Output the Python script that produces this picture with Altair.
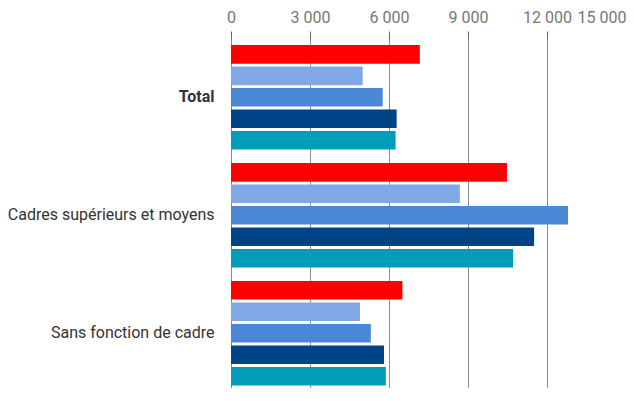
import altair as alt
import pandas as pd

groups = ["Total", "Cadres supérieurs et moyens", "Sans fonction de cadre"]
series = ["S1", "S2", "S3", "S4", "S5"]
colors = ["#ff0000", "#80a8e4", "#4a88d6", "#004386", "#009db8"]
values = [
    [7170, 5000, 5760, 6290, 6250],
    [10480, 8690, 12800, 11510, 10710],
    [6510, 4900, 5310, 5810, 5880],
]
x_ticks = [0, 3000, 6000, 9000, 12000, 15000]

rows = []
for g, vals in zip(groups, values):
    for s, v in zip(series, vals):
        rows.append({"groupe": g, "serie": s, "valeur": v})
df = pd.DataFrame(rows)

chart = alt.Chart(df).mark_bar().encode(
    x=alt.X(
        "valeur:Q",
        scale=alt.Scale(domain=[0, 15000], nice=False),
        axis=alt.Axis(
            orient="top",
            values=x_ticks,
            title=None,
            labelExpr="replace(format(datum.value, ',d'), ',', ' ')",
            labelAlign=alt.expr("datum.value == 15000 ? 'right' : 'center'"),
            labelFont="Roboto",
            labelFontSize=16,
            labelColor="#777777",
            labelPadding=6,
            tickSize=8,
            tickColor="#666666",
            domain=False,
            grid=True,
            gridColor="#8c8c8c",
            gridWidth=1,
        ),
    ),
    y=alt.Y(
        "groupe:N",
        sort=groups,
        scale=alt.Scale(paddingInner=0.113, paddingOuter=0.0355, align=0.71),
        axis=alt.Axis(
            title=None,
            ticks=False,
            tickSize=0,
            domain=False,
            labelFont="Roboto",
            labelFontSize=16,
            labelColor="#333333",
            labelFontWeight=alt.expr("datum.value == 'Total' ? 'bold' : 'normal'"),
            labelPadding=17,
            labelLimit=400,
        ),
    ),
    yOffset=alt.YOffset(
        "serie:N",
        sort=series,
        scale=alt.Scale(paddingInner=0.13, paddingOuter=0),
    ),
    color=alt.Color(
        "serie:N",
        sort=series,
        scale=alt.Scale(domain=series, range=colors),
        legend=None,
    ),
).properties(
    width=395,
    height=349,
    autosize=alt.AutoSizeParams(type="none"),
    padding={"left": 223, "top": 31, "right": 0, "bottom": 0},
).configure_view(
    stroke=None
)

chart.save("out.html", embed_options={"renderer": "svg", "actions": False})
